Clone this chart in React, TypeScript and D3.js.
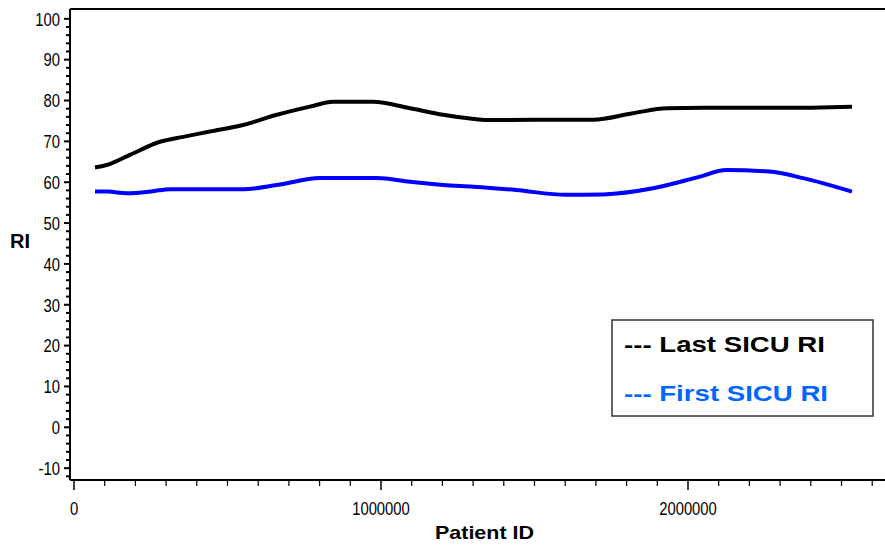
import React from "react";
import * as d3 from "d3";

const lastX = [68400, 106500, 182400, 280000, 355000, 443000, 550500, 661000, 768700, 843600, 974000, 1094500, 1202000, 1290000, 1345000, 1495000, 1690600, 1820800, 1931600, 2049000, 2309000, 2534000];
const lastRI = [63.6, 64.2, 66.7, 69.9, 71.1, 72.4, 74.0, 76.5, 78.5, 79.7, 79.7, 78.1, 76.5, 75.6, 75.2, 75.3, 75.3, 76.9, 78.1, 78.2, 78.2, 78.5];
const firstX = [68400, 110000, 172000, 257000, 312000, 550500, 661000, 801000, 987000, 1094500, 1202000, 1300000, 1440000, 1603000, 1723000, 1886000, 2036000, 2124000, 2264000, 2375000, 2534000];
const firstRI = [57.7, 57.7, 57.3, 57.8, 58.3, 58.3, 59.3, 61.0, 61.0, 60.1, 59.3, 58.9, 58.1, 56.9, 57.0, 58.5, 61.3, 63.0, 62.6, 61.0, 57.7];

const yMajor = [-10, 0, 10, 20, 30, 40, 50, 60, 70, 80, 90, 100];
const xMajor = [0, 1000000, 2000000];
const legendLabels = ["--- Last SICU RI", "--- First SICU RI"];

const W = 885, H = 546;
const left = 70, right = 885, top = 9, bottom = 480;

export default function App() {
  const x = d3.scaleLinear().domain([-13000, 2641700]).range([left, right]);
  const y = d3.scaleLinear().domain([-12.9, 102.4]).range([bottom, top]);

  const lineGen = d3.line<[number, number]>().x(d => x(d[0])).y(d => y(d[1])).curve(d3.curveMonotoneX);
  const lastPts = lastX.map((v, i) => [v, lastRI[i]] as [number, number]);
  const firstPts = firstX.map((v, i) => [v, firstRI[i]] as [number, number]);

  const yMinor = d3.range(-12, 102, 2).filter(v => v % 10 !== 0);
  const xMinor = d3.range(100000, 2700000, 100000).filter(v => v % 1000000 !== 0 && x(v) <= right);

  const tickFont = "'Liberation Sans', Arial, sans-serif";
  const boldFont = "'Liberation Sans', Arial, sans-serif";

  return (
    <svg width={W} height={H} style={{ position: "absolute", left: 0, top: 0, background: "#fff" }}>
      <rect x={0} y={0} width={W} height={H} fill="#fff" />
      <line x1={left} y1={top} x2={right} y2={top} stroke="#000" strokeWidth={2} />
      <line x1={left} y1={top} x2={left} y2={bottom} stroke="#000" strokeWidth={2} />
      <line x1={left} y1={bottom} x2={right} y2={bottom} stroke="#000" strokeWidth={2} />
      {yMinor.map(v => (
        <line key={"ym" + v} x1={left - 4} x2={left} y1={y(v)} y2={y(v)} stroke="#000" strokeWidth={2} />
      ))}
      {yMajor.map(v => (
        <g key={"y" + v}>
          <line x1={left - 6} x2={left} y1={y(v)} y2={y(v)} stroke="#000" strokeWidth={2} />
          <text transform={`translate(60,${y(v) + 6.8}) scale(0.8,1)`} textAnchor="end" fontFamily={tickFont} fontSize={18.5} fill="#000">{v}</text>
        </g>
      ))}
      {xMinor.map(v => (
        <line key={"xm" + v} x1={x(v)} x2={x(v)} y1={bottom} y2={bottom + 6} stroke="#000" strokeWidth={1.2} />
      ))}
      {xMajor.map(v => (
        <g key={"x" + v}>
          <line x1={x(v)} x2={x(v)} y1={bottom} y2={bottom + 10} stroke="#000" strokeWidth={1.5} />
          <text transform={`translate(${x(v)},515) scale(0.8,1)`} textAnchor="middle" fontFamily={tickFont} fontSize={18.5} fill="#000">{v}</text>
        </g>
      ))}
      <text x={10} y={248} fontFamily={boldFont} fontWeight="bold" fontSize={20} fill="#000">RI</text>
      <text x={435} y={539} fontFamily={boldFont} fontWeight="bold" fontSize={19} fill="#000" textLength={99} lengthAdjust="spacingAndGlyphs">Patient ID</text>
      <path d={lineGen(lastPts) || ""} fill="none" stroke="#000" strokeWidth={4} />
      <path d={lineGen(firstPts) || ""} fill="none" stroke="#0000ff" strokeWidth={4} />
      <rect x={612} y={320} width={261} height={96} fill="#fff" stroke="#333" strokeWidth={1.5} />
      <text x={624} y={352} fontFamily={boldFont} fontWeight="bold" fontSize={22} fill="#000" textLength={201} lengthAdjust="spacingAndGlyphs">{legendLabels[0]}</text>
      <text x={624} y={401} fontFamily={boldFont} fontWeight="bold" fontSize={22} fill="#0066ff" textLength={204} lengthAdjust="spacingAndGlyphs">{legendLabels[1]}</text>
    </svg>
  );
}
